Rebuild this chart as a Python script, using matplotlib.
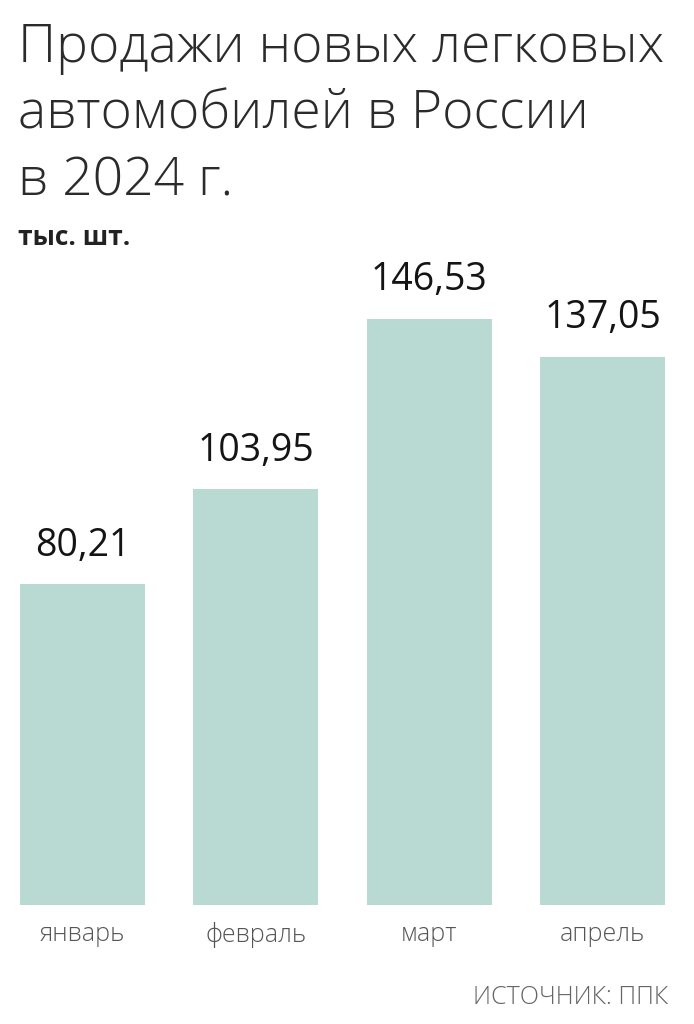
import matplotlib
matplotlib.use("Agg")
import matplotlib.pyplot as plt

months = ["январь", "февраль", "март", "апрель"]
sales = [80.21, 103.95, 146.53, 137.05]
labels = ["80,21", "103,95", "146,53", "137,05"]

title = "Продажи новых легковых\nавтомобилей в России\nв 2024 г."
unit = "тыс. шт."
source = "ИСТОЧНИК: ППК"

bar_color = "#b8dad3"

fig = plt.figure(figsize=(6.94, 10.24), dpi=100)
fig.patch.set_facecolor("white")

ax = fig.add_axes([0, 0.1162, 1, 0.63])
x = list(range(len(months)))
ax.bar(x, sales, width=0.72, color=bar_color)
ax.set_xlim(-0.476, 3.528)
ax.set_ylim(0, 161.25)

for xi, v, lab in zip(x, sales, labels):
    ax.annotate(lab, (xi, v), xytext=(0, 14), textcoords="offset points",
                ha="center", va="bottom", fontsize=27, color="#141414",
                family="Open Sans", fontweight="medium")

ax.set_xticks(x)
ax.set_xticklabels(months, fontsize=18, color="#555555", family="Open Sans",
                   fontweight="light")
ax.tick_params(axis="x", length=0, pad=12)
ax.set_yticks([])
for s in ax.spines.values():
    s.set_visible(False)

fig.text(0.026, 0.979, title, ha="left", va="top", fontsize=38.5,
         family="Open Sans", fontweight="light", color="#2b2b2b",
         linespacing=1.33)
fig.text(0.026, 0.768, unit, ha="left", va="center", fontsize=19,
         family="Open Sans", fontweight="bold", color="#222222")
fig.text(0.963, 0.026, source, ha="right", va="center", fontsize=18,
         family="Open Sans", fontweight="light", color="#666666")

fig.savefig("out.png", dpi=100, facecolor="white")
